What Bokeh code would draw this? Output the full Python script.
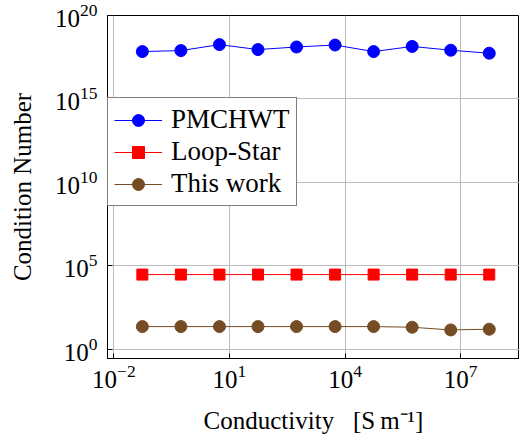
from bokeh.plotting import figure
from bokeh.models import FixedTicker, LogTickFormatter, Legend, LegendItem, Range1d
from bokeh.embed import file_html
from bokeh.resources import INLINE

# Data
conductivity = [0.055, 0.55, 5.5, 55, 550, 5500, 5.5e4, 5.5e5, 5.5e6, 5.5e7]
pmchwt = [6.9e17, 7.9e17, 1.8e18, 9.1e17, 1.3e18, 1.7e18, 6.9e17, 1.4e18, 8.3e17, 5.5e17]
loop_star = [3.0e4] * 10
this_work = [23, 23, 23, 23, 23, 23, 23, 21, 14.5, 16]

x_ticks = [1e-2, 1e1, 1e4, 1e7]
y_ticks = [1e0, 1e5, 1e10, 1e15, 1e20]

SERIF = "Liberation Serif"

p = figure(width=519, height=439, x_axis_type="log", y_axis_type="log",
           x_range=Range1d(10**-2.164, 10**8.525), y_range=Range1d(10**-0.55, 1e20),
           output_backend="svg", toolbar_location=None,
           min_border_left=107, min_border_top=15, min_border_right=0, min_border_bottom=81)

p.outline_line_color = "black"
p.outline_line_width = 1
p.background_fill_color = "white"
p.border_fill_color = "white"

for ax, ticks in ((p.xaxis, x_ticks), (p.yaxis, y_ticks)):
    ax.ticker = FixedTicker(ticks=ticks, minor_ticks=[])
    ax.formatter = LogTickFormatter()
    ax.major_tick_in = 5
    ax.major_tick_out = 0
    ax.minor_tick_line_color = None
    ax.axis_line_color = "black"
    ax.major_label_text_font = SERIF
    ax.major_label_text_font_size = "25px"
    ax.major_label_text_color = "black"
    ax.axis_label_text_font = SERIF
    ax.axis_label_text_font_size = "25px"
    ax.axis_label_text_font_style = "normal"
    ax.axis_label_text_color = "black"

p.xaxis.axis_label = "Conductivity\u2002 [S\u2009m\u207b\u00b9]"
p.yaxis.axis_label = "Condition Number"
p.xaxis.major_label_standoff = 6
p.yaxis.major_label_standoff = 10
p.xaxis.axis_label_standoff = 16
p.yaxis.axis_label_standoff = 16

p.xgrid.ticker = FixedTicker(ticks=x_ticks)
p.ygrid.ticker = FixedTicker(ticks=y_ticks)
for g in (p.xgrid, p.ygrid):
    g.grid_line_color = "#bdbdbd"
    g.grid_line_width = 1

BLUE, RED, BROWN = "#0000ff", "#ff0000", "#754c24"

l1 = p.line(conductivity, pmchwt, line_color=BLUE, line_width=1)
s1 = p.scatter(conductivity, pmchwt, marker="circle", size=12, fill_color=BLUE, line_color=BLUE)
l2 = p.line(conductivity, loop_star, line_color=RED, line_width=1)
s2 = p.scatter(conductivity, loop_star, marker="square", size=11, fill_color=RED, line_color=RED)
l3 = p.line(conductivity, this_work, line_color=BROWN, line_width=1)
s3 = p.scatter(conductivity, this_work, marker="circle", size=12, fill_color=BROWN, line_color=BROWN)

legend = Legend(items=[
    LegendItem(label="PMCHWT", renderers=[l1, s1]),
    LegendItem(label="Loop-Star", renderers=[l2, s2]),
    LegendItem(label="This work", renderers=[l3, s3]),
], location=(0, 152))
legend.label_text_font = SERIF
legend.label_text_font_size = "27px"
legend.label_text_color = "black"
legend.glyph_width = 48
legend.glyph_height = 30
legend.label_height = 30
legend.spacing = 1
legend.padding = 6
legend.margin = 0
legend.label_standoff = 9
legend.border_line_color = "black"
legend.border_line_width = 1
legend.background_fill_alpha = 1
p.add_layout(legend, "center")

open("out.html", "w").write(file_html(p, INLINE))
